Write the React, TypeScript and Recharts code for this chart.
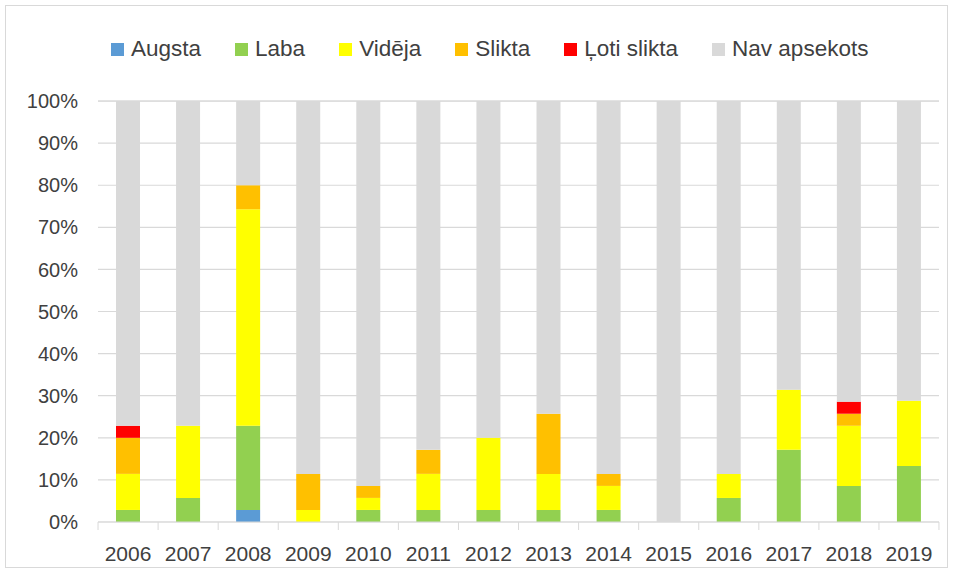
import React from "react";
import { BarChart, Bar, XAxis, YAxis, CartesianGrid } from "recharts";

// percentages per year
const years = ["2006", "2007", "2008", "2009", "2010", "2011", "2012", "2013", "2014", "2015", "2016", "2017", "2018", "2019"];
const augsta = [0, 0, 2.86, 0, 0, 0, 0, 0, 0, 0, 0, 0, 0, 0];
const laba = [2.86, 5.71, 20, 0, 2.86, 2.86, 2.86, 2.86, 2.86, 0, 5.71, 17.14, 8.57, 13.3];
const videja = [8.57, 17.14, 51.43, 2.86, 2.86, 8.57, 17.14, 8.57, 5.71, 0, 5.71, 14.29, 14.29, 15.5];
const slikta = [8.57, 0, 5.71, 8.57, 2.86, 5.71, 0, 14.29, 2.86, 0, 0, 0, 2.86, 0];
const lotiSlikta = [2.86, 0, 0, 0, 0, 0, 0, 0, 0, 0, 0, 0, 2.86, 0];
const navApsekots = [77.14, 77.14, 20, 88.57, 91.43, 82.86, 80, 74.29, 88.57, 100, 88.57, 68.57, 71.43, 71.2];
const yTicks = [0, 10, 20, 30, 40, 50, 60, 70, 80, 90, 100];

const series = [
  { key: "augsta", name: "Augsta", color: "#5b9bd5" },
  { key: "laba", name: "Laba", color: "#92d050" },
  { key: "videja", name: "Vidēja", color: "#ffff00" },
  { key: "slikta", name: "Slikta", color: "#ffc000" },
  { key: "lotiSlikta", name: "Ļoti slikta", color: "#ff0000" },
  { key: "nav", name: "Nav apsekots", color: "#d9d9d9" },
];

const data = years.map((year, i) => ({
  year,
  augsta: augsta[i],
  laba: laba[i],
  videja: videja[i],
  slikta: slikta[i],
  lotiSlikta: lotiSlikta[i],
  nav: navApsekots[i],
}));

const FONT = "'Liberation Sans', Arial, sans-serif";
const TEXT = "#404040";
const GRID = "#d9d9d9";
const HALF_BAND = 30;

const YearTick = (props: any) => {
  const { x, y, payload, index } = props;
  return (
    <g>
      <line x1={x - HALF_BAND} y1={y} x2={x - HALF_BAND} y2={y + 8} stroke={GRID} />
      {index === years.length - 1 && (
        <line x1={x + HALF_BAND} y1={y} x2={x + HALF_BAND} y2={y + 8} stroke={GRID} />
      )}
      <text x={x} y={y + 39} textAnchor="middle" fill={TEXT} fontSize={21} fontFamily={FONT}>
        {payload.value}
      </text>
    </g>
  );
};

export default function App() {
  return (
    <div style={{ position: "absolute", left: 0, top: 0, width: 955, height: 578, background: "#fff", fontFamily: FONT }}>
      <div style={{ position: "absolute", left: 5, top: 5, width: 941, height: 561, border: `1px solid ${GRID}` }} />
      <div style={{ position: "absolute", left: 111, top: 38, display: "flex", alignItems: "center", gap: 34, fontSize: 22.5, lineHeight: "22px", color: TEXT }}>
        {series.map((s) => (
          <div key={s.key} style={{ display: "flex", alignItems: "center", gap: 7 }}>
            <span style={{ display: "inline-block", width: 13, height: 13, background: s.color }} />
            <span>{s.name}</span>
          </div>
        ))}
      </div>
      <div style={{ position: "absolute", left: 0, top: 0 }}>
        <BarChart width={955} height={578} data={data} margin={{ top: 101, right: 16, bottom: 16, left: 0 }} barSize={24}>
          <CartesianGrid vertical={false} stroke={GRID} strokeWidth={1.2} />
          <XAxis
            dataKey="year"
            height={40}
            axisLine={{ stroke: GRID }}
            tickLine={false}
            tickSize={0}
            tickMargin={0}
            interval={0}
            tick={<YearTick />}
          />
          <YAxis
            width={98}
            domain={[0, 100]}
            ticks={yTicks}
            axisLine={false}
            tickLine={false}
            tickSize={0}
            tickMargin={20}
            tickFormatter={(v: number) => `${v}%`}
            tick={{ fill: TEXT, fontSize: 20, fontFamily: FONT }}
          />
          {series.map((s) => (
            <Bar key={s.key} dataKey={s.key} name={s.name} stackId="a" fill={s.color} isAnimationActive={false} />
          ))}
        </BarChart>
      </div>
    </div>
  );
}
